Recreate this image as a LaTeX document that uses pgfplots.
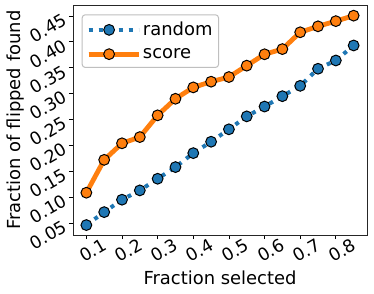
\documentclass[border=0pt]{standalone}
\usepackage{fontspec}
\setmainfont{DejaVu Sans}
\usepackage{pgfplots}
\pgfplotsset{compat=1.18}
\definecolor{tabblue}{HTML}{1F77B4}
\definecolor{taborange}{HTML}{FF7F0E}
\begin{document}
\begin{tikzpicture}
\useasboundingbox (-73bp,-59bp) rectangle (301bp,235bp);
\begin{axis}[
  at={(0,0)}, anchor=south west,
  scale only axis, width=294bp, height=230bp,
  xmin=0.0625, xmax=0.8875, ymin=0.0268, ymax=0.4712,
  xtick={0.1,0.2,...,0.8},
  ytick={0.05,0.10,...,0.45},
  xticklabels={0.1,0.2,0.3,0.4,0.5,0.6,0.7,0.8},
  yticklabels={0.05,0.10,0.15,0.20,0.25,0.30,0.35,0.40,0.45},
  tick align=outside, xtick pos=bottom, ytick pos=left,
  major tick length=4bp,
  tick style={black, line width=0.8bp},
  axis line style={black!85, line width=0.8bp},
  /pgf/number format/assume math mode=true,
  tick label style={font=\fontsize{17.5}{20}\selectfont},
  xticklabel style={rotate=30, anchor=center, yshift=-13bp},
  yticklabel style={rotate=30, anchor=east, xshift=-1bp},
  xlabel={Fraction selected},
  ylabel={Fraction of flipped found},
  label style={font=\fontsize{18}{21}\selectfont},
  xlabel style={at={(axis description cs:0.5,0)}, anchor=south, yshift=-59bp+6bp},
  ylabel style={at={(axis description cs:0,0.5)}, anchor=north, yshift=73bp-3bp},
  legend style={at={(8.7bp,220.7bp)}, anchor=north west, draw=black!25, line width=1bp,
    rounded corners=3bp,
    fill=white, font=\fontsize{18}{21}\selectfont, inner xsep=4bp, inner ysep=5.5bp,
    row sep=7bp, legend cell align=left},
  legend image code/.code={\path (0bp,0bp) -- (50bp,0bp);\draw[mark repeat=2,mark phase=2] plot coordinates {(0bp,0bp) (20.5bp,0bp) (41bp,0bp)};},
  every mark/.append style={solid},
]
\addplot[color=tabblue, line width=4bp, dash pattern=on 4bp off 6bp, mark=*, mark size=5.4bp,
  mark options={fill=tabblue, draw=black, line width=1bp, solid}] coordinates {
(0.10,0.046) (0.15,0.071) (0.20,0.095) (0.25,0.113) (0.30,0.1355) (0.35,0.158)
(0.40,0.185) (0.45,0.207) (0.50,0.231) (0.55,0.256) (0.60,0.275) (0.65,0.295)
(0.70,0.315) (0.75,0.348) (0.80,0.364) (0.85,0.393)};
\addlegendentry{random}
\addplot[color=taborange, line width=4.8bp, mark=*, mark size=5.4bp,
  mark options={fill=taborange, draw=black, line width=1bp, solid}] coordinates {
(0.10,0.1085) (0.15,0.172) (0.20,0.204) (0.25,0.216) (0.30,0.258) (0.35,0.290)
(0.40,0.312) (0.45,0.323) (0.50,0.332) (0.55,0.354) (0.60,0.376) (0.65,0.386)
(0.70,0.4185) (0.75,0.430) (0.80,0.440) (0.85,0.4506)};
\addlegendentry{score}
\end{axis}
\end{tikzpicture}
\end{document}
